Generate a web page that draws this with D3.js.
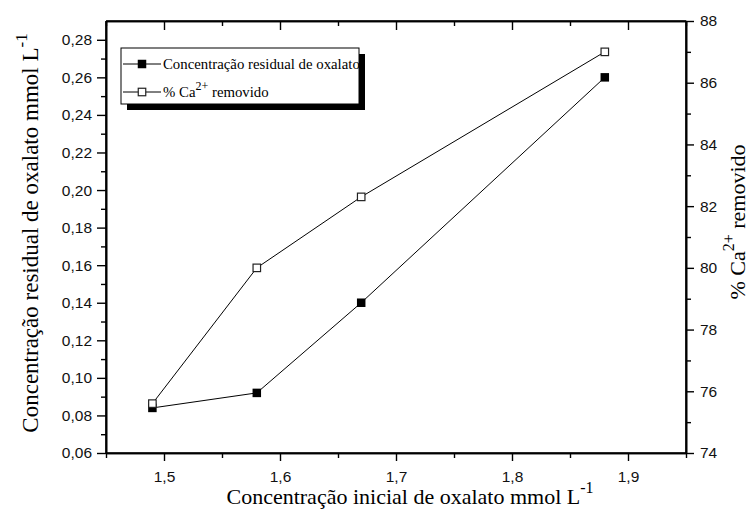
<!DOCTYPE html>
<html>
<head>
<meta charset="utf-8">
<script src="https://cdn.jsdelivr.net/npm/d3@7"></script>
<style>
  html, body { margin: 0; padding: 0; background: #fff; }
  svg { display: block; }
</style>
</head>
<body>
<svg id="chart" width="751" height="516"></svg>
<script>
// ---- data ----
const xValues = [1.49, 1.58, 1.67, 1.88];
const residualOxalate = [0.084, 0.092, 0.140, 0.260];
const caRemoved = [75.6, 80.0, 82.3, 87.0];
const xTicks = [1.5, 1.6, 1.7, 1.8, 1.9];
const yLeftTicks = [0.06, 0.08, 0.10, 0.12, 0.14, 0.16, 0.18, 0.20, 0.22, 0.24, 0.26, 0.28];
const yRightTicks = [74, 76, 78, 80, 82, 84, 86, 88];
const legendLabels = ["Concentração residual de oxalato", "% Ca", "2+", " removido"];

// ---- layout ----
const svg = d3.select("#chart");
const L = 106, R = 686, T = 21, B = 453;
const fmt = d => d3.format(".2f")(d).replace(".", ",");
const fmtX = d => d3.format(".1f")(d).replace(".", ",");

const x = d3.scaleLinear().domain([1.45, 1.95]).range([L, R]);
const yL = d3.scaleLinear().domain([0.06, 0.29]).range([B, T]);
const yR = d3.scaleLinear().domain([74, 88]).range([B, T]);

const sansFont = "'Liberation Sans', Arial, sans-serif";
const serifFont = "'Liberation Serif', 'Times New Roman', serif";

const xMinor = d3.range(1.45, 1.951, 0.1).map(v => +v.toFixed(2));
const yLMinor = d3.range(0.07, 0.29, 0.02).map(v => +v.toFixed(2));
const yRMinor = d3.range(75, 88, 2);

function styleAxis(g) {
  g.selectAll("path").attr("stroke", "#000").attr("stroke-width", 1.6);
  g.selectAll("line").attr("stroke", "#000").attr("stroke-width", 1.4);
  g.selectAll("text").attr("font-family", sansFont).attr("font-size", 15.5).attr("fill", "#111");
}

// bottom axis
const gB = svg.append("g").attr("transform", `translate(0,${B})`)
  .call(d3.axisBottom(x).tickValues(xTicks).tickFormat(fmtX).tickSize(8).tickPadding(10).tickSizeOuter(0));
styleAxis(gB);
const gBm = svg.append("g").attr("transform", `translate(0,${B})`)
  .call(d3.axisBottom(x).tickValues(xMinor).tickFormat("").tickSize(5).tickSizeOuter(0));
styleAxis(gBm);

// top axis (ticks inward)
const gT = svg.append("g").attr("transform", `translate(0,${T})`)
  .call(d3.axisTop(x).tickValues(xTicks).tickFormat("").tickSize(-9).tickSizeOuter(0));
styleAxis(gT);
const gTm = svg.append("g").attr("transform", `translate(0,${T})`)
  .call(d3.axisTop(x).tickValues(xMinor).tickFormat("").tickSize(-5).tickSizeOuter(0));
styleAxis(gTm);

// left axis
const gL = svg.append("g").attr("transform", `translate(${L},0)`)
  .call(d3.axisLeft(yL).tickValues(yLeftTicks).tickFormat(fmt).tickSize(9).tickPadding(5).tickSizeOuter(0));
styleAxis(gL);
const gLm = svg.append("g").attr("transform", `translate(${L},0)`)
  .call(d3.axisLeft(yL).tickValues(yLMinor).tickFormat("").tickSize(5).tickSizeOuter(0));
styleAxis(gLm);

// right axis
const gR = svg.append("g").attr("transform", `translate(${R},0)`)
  .call(d3.axisRight(yR).tickValues(yRightTicks).tickFormat(d3.format("d")).tickSize(8).tickPadding(6).tickSizeOuter(0));
styleAxis(gR);
const gRm = svg.append("g").attr("transform", `translate(${R},0)`)
  .call(d3.axisRight(yR).tickValues(yRMinor).tickFormat("").tickSize(5).tickSizeOuter(0));
styleAxis(gRm);

// frame lines
[[L, T, R, T], [L, B, R, B], [L, T, L, B], [R, T, R, B]].forEach(([x1, y1, x2, y2]) => {
  svg.append("line").attr("x1", x1).attr("y1", y1).attr("x2", x2).attr("y2", y2)
    .attr("stroke", "#000").attr("stroke-width", 1.6);
});

// ---- series ----
const lineL = d3.line().x((d, i) => x(xValues[i])).y(d => yL(d));
const lineR = d3.line().x((d, i) => x(xValues[i])).y(d => yR(d));

svg.append("path").datum(residualOxalate).attr("d", lineL)
  .attr("fill", "none").attr("stroke", "#000").attr("stroke-width", 1);
svg.append("path").datum(caRemoved).attr("d", lineR)
  .attr("fill", "none").attr("stroke", "#000").attr("stroke-width", 1);

const ms = 8.5;
svg.append("g").selectAll("rect").data(residualOxalate).join("rect")
  .attr("x", (d, i) => x(xValues[i]) - ms / 2).attr("y", d => yL(d) - ms / 2)
  .attr("width", ms).attr("height", ms).attr("fill", "#000");
svg.append("g").selectAll("rect").data(caRemoved).join("rect")
  .attr("x", (d, i) => x(xValues[i]) - ms / 2 + 0.5).attr("y", d => yR(d) - ms / 2 + 0.5)
  .attr("width", ms - 1).attr("height", ms - 1).attr("fill", "#fff").attr("stroke", "#222").attr("stroke-width", 1.2);

// ---- legend ----
const lg = svg.append("g");
const lx = 121, ly = 48, lw = 238, lh = 56;
lg.append("rect").attr("x", lx + 6).attr("y", ly + 6).attr("width", lw).attr("height", lh).attr("fill", "#000");
lg.append("rect").attr("x", lx).attr("y", ly).attr("width", lw).attr("height", lh)
  .attr("fill", "#fff").attr("stroke", "#000").attr("stroke-width", 1);
const rows = [64, 92];
rows.forEach((ry, k) => {
  lg.append("line").attr("x1", 123).attr("x2", 161).attr("y1", ry).attr("y2", ry)
    .attr("stroke", "#000").attr("stroke-width", 1);
  lg.append("rect").attr("x", 142 - ms / 2 + (k ? 0.5 : 0)).attr("y", ry - ms / 2 + (k ? 0.5 : 0))
    .attr("width", k ? ms - 1 : ms).attr("height", k ? ms - 1 : ms)
    .attr("fill", k ? "#fff" : "#000").attr("stroke", k ? "#222" : "none").attr("stroke-width", 1.2);
});
lg.append("text").attr("x", 163).attr("y", 69).attr("font-family", serifFont).attr("font-size", 14.8)
  .text(legendLabels[0]);
const t2 = lg.append("text").attr("x", 163).attr("y", 97).attr("font-family", serifFont).attr("font-size", 14.8);
t2.append("tspan").text(legendLabels[1]);
t2.append("tspan").attr("dy", -7).attr("font-size", 12).text(legendLabels[2]);
t2.append("tspan").attr("dy", 7).text(legendLabels[3]);

// ---- axis titles ----
const xt = svg.append("text").attr("x", 410).attr("y", 504).attr("text-anchor", "middle")
  .attr("font-family", serifFont).attr("font-size", 22);
xt.append("tspan").text("Concentração inicial de oxalato mmol L");
xt.append("tspan").attr("dy", -11).attr("font-size", 16).text("-1");

const ylt = svg.append("text").attr("transform", `translate(38,233) rotate(-90)`).attr("text-anchor", "middle")
  .attr("font-family", serifFont).attr("font-size", 23);
ylt.append("tspan").text("Concentração residual de oxalato mmol L");
ylt.append("tspan").attr("dy", -11).attr("font-size", 17).text("-1");

const yrt = svg.append("text").attr("transform", `translate(745,222) rotate(-90)`).attr("text-anchor", "middle")
  .attr("font-family", serifFont).attr("font-size", 22);
yrt.append("tspan").text("% Ca");
yrt.append("tspan").attr("dy", -11).attr("font-size", 16).text("2+");
yrt.append("tspan").attr("dy", 11).text(" removido");
</script>
</body>
</html>
